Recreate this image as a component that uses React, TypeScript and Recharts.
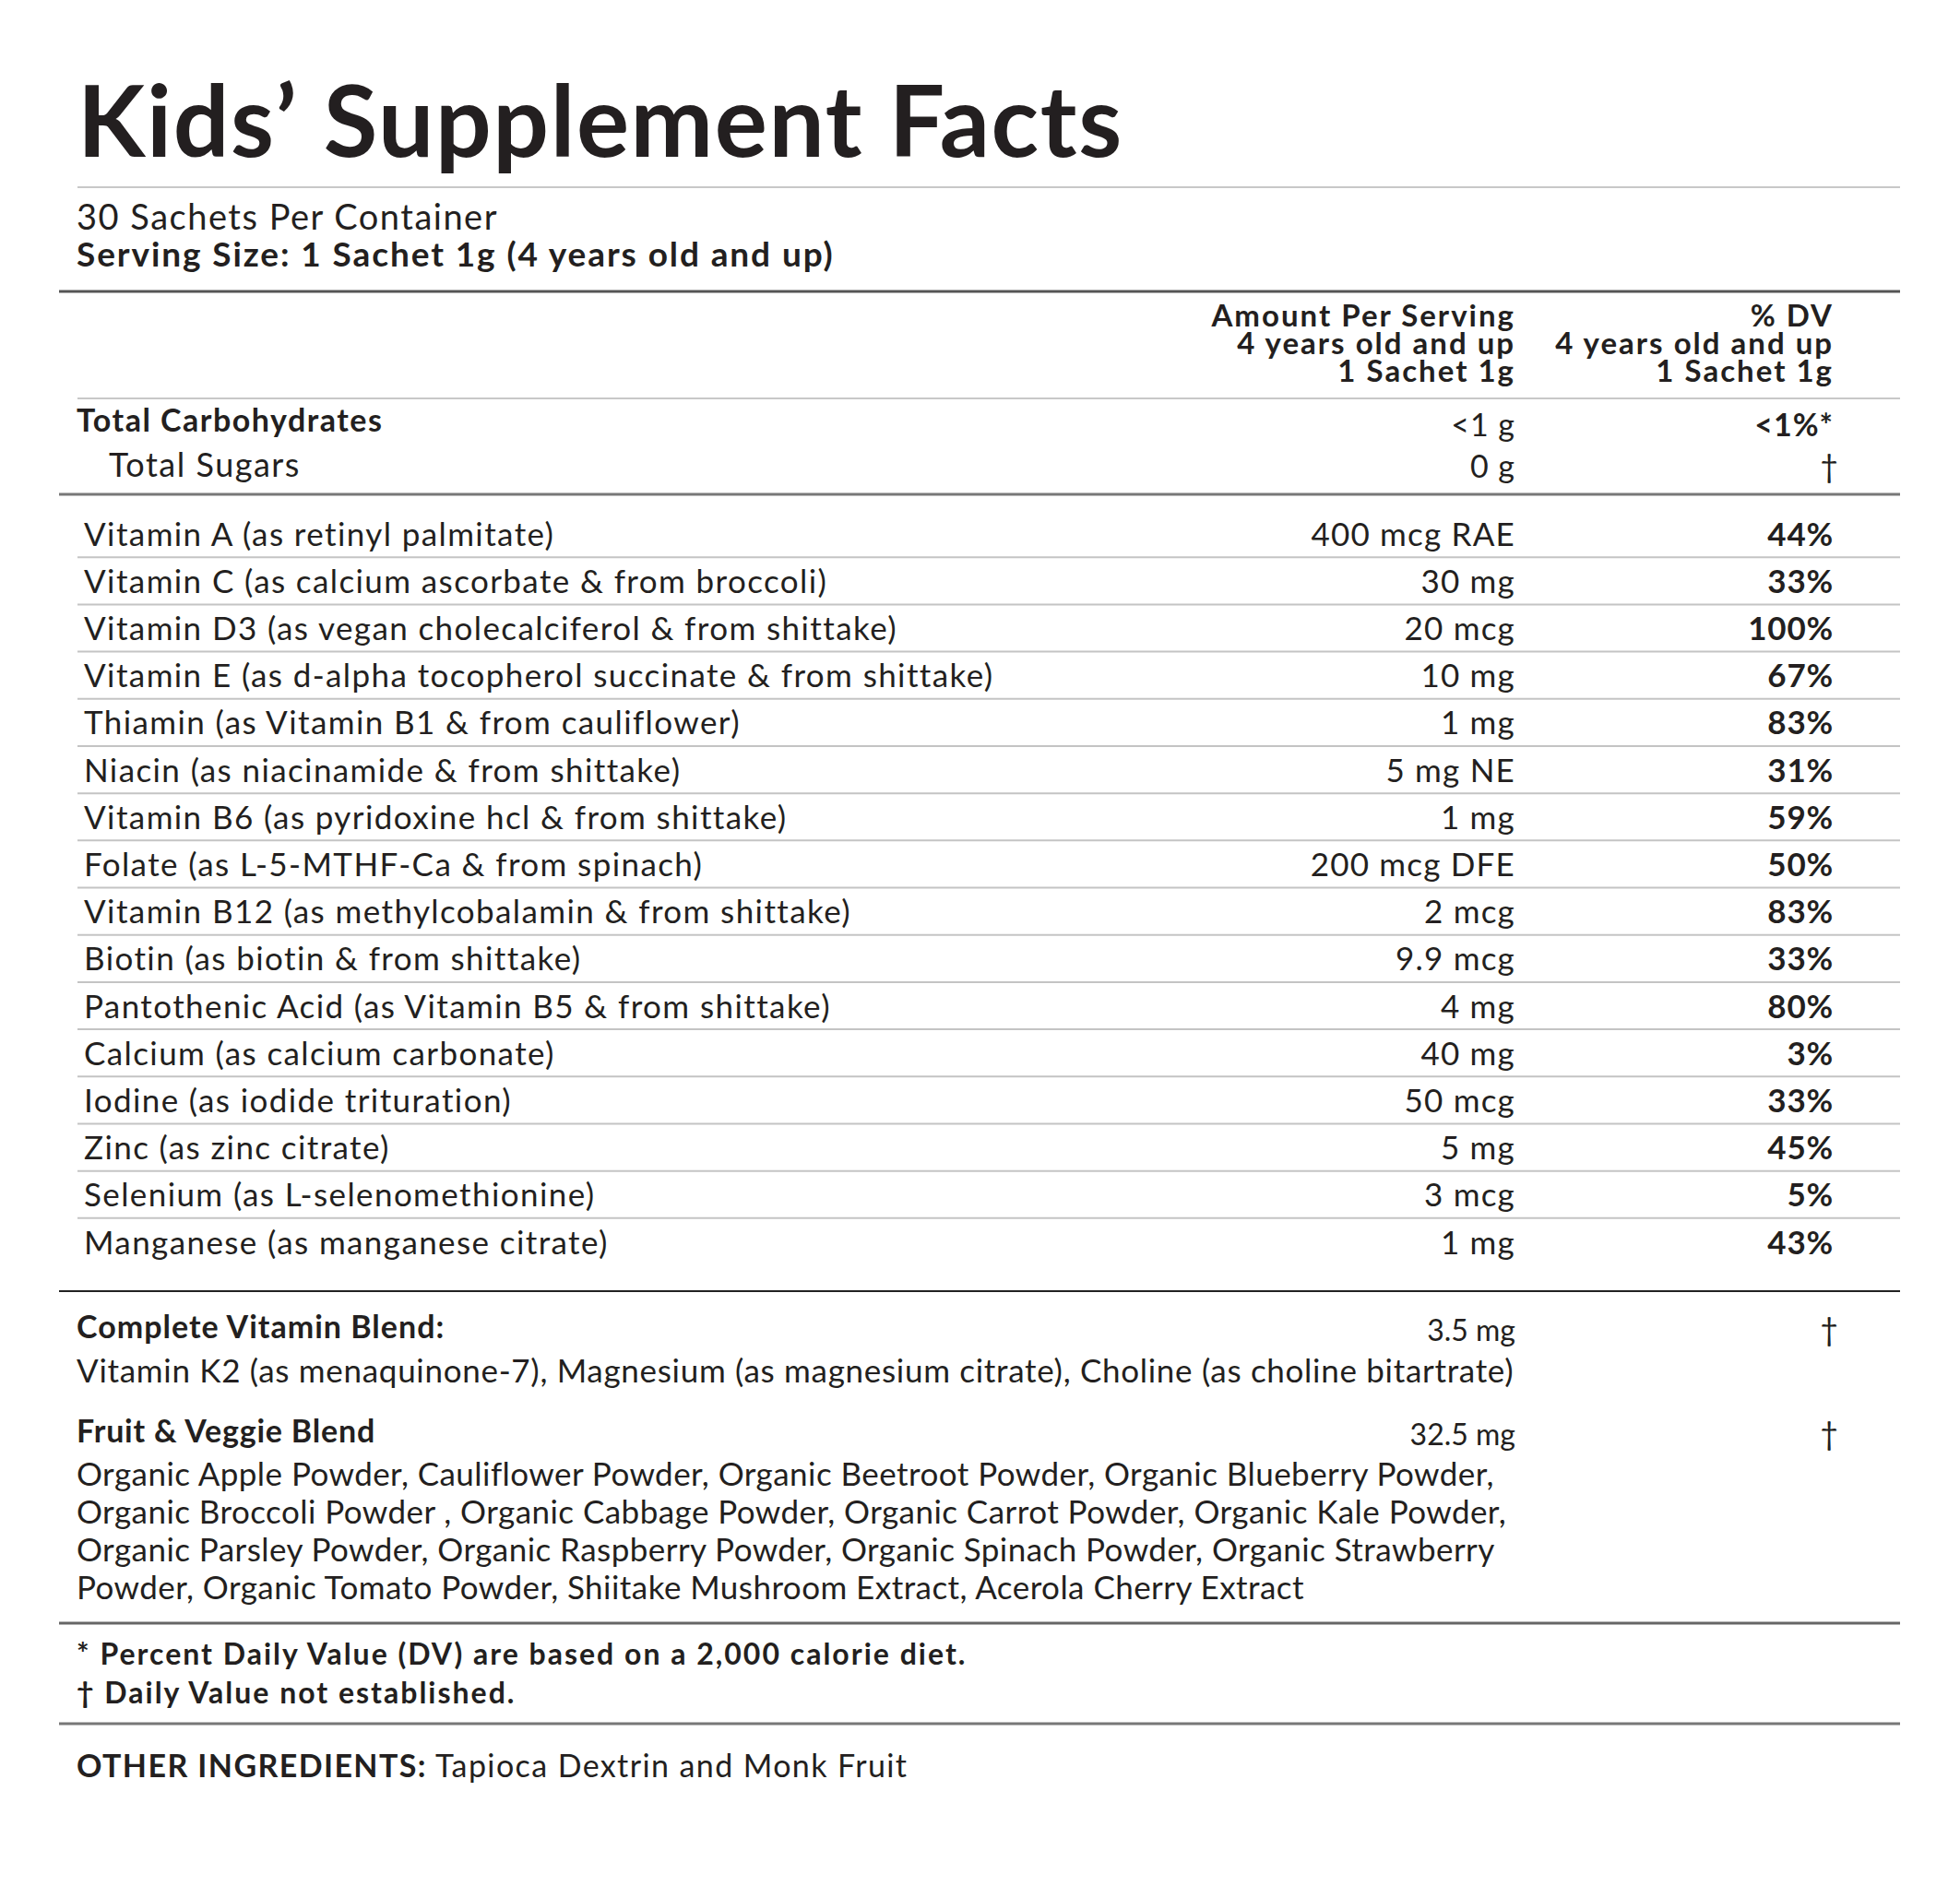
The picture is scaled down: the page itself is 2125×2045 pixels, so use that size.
import { BarChart, Bar, XAxis, YAxis, Customized } from 'recharts'

const nutrients = [
  'Vitamin A (as retinyl palmitate)',
  'Vitamin C (as calcium ascorbate & from broccoli)',
  'Vitamin D3 (as vegan cholecalciferol & from shittake)',
  'Vitamin E (as d-alpha tocopherol succinate & from shittake)',
  'Thiamin (as Vitamin B1 & from cauliflower)',
  'Niacin (as niacinamide & from shittake)',
  'Vitamin B6 (as pyridoxine hcl & from shittake)',
  'Folate (as L-5-MTHF-Ca & from spinach)',
  'Vitamin B12 (as methylcobalamin & from shittake)',
  'Biotin (as biotin & from shittake)',
  'Pantothenic Acid (as Vitamin B5 & from shittake)',
  'Calcium (as calcium carbonate)',
  'Iodine (as iodide trituration)',
  'Zinc (as zinc citrate)',
  'Selenium (as L-selenomethionine)',
  'Manganese (as manganese citrate)',
]
const amounts = [
  '400 mcg RAE', '30 mg', '20 mcg', '10 mg', '1 mg', '5 mg NE', '1 mg', '200 mcg DFE',
  '2 mcg', '9.9 mcg', '4 mg', '40 mg', '50 mcg', '5 mg', '3 mcg', '1 mg',
]
const dailyValues = [44, 33, 100, 67, 83, 31, 59, 50, 83, 33, 80, 3, 33, 45, 5, 43]

const headerLines = ['Amount Per Serving', '4 years old and up', '1 Sachet 1g']
const dvHeaderLines = ['% DV', '4 years old and up', '1 Sachet 1g']
const vitaminBlend = ['Vitamin K2 (as menaquinone-7), Magnesium (as magnesium citrate), Choline (as choline bitartrate)']
const veggieBlend = [
  'Organic Apple Powder, Cauliflower Powder, Organic Beetroot Powder, Organic Blueberry Powder,',
  'Organic Broccoli Powder , Organic Cabbage Powder, Organic Carrot Powder, Organic Kale Powder,',
  'Organic Parsley Powder, Organic Raspberry Powder, Organic Spinach Powder, Organic Strawberry',
  'Powder, Organic Tomato Powder, Shiitake Mushroom Extract, Acerola Cherry Extract',
]
const footnotes = [
  '* Percent Daily Value (DV) are based on a 2,000 calorie diet.',
  '\u2020 Daily Value not established.',
]

const rows = nutrients.map((name, i) => ({ name, amount: amounts[i], dv: dailyValues[i] }))

const W = 2125
const H = 2045
const PLOT_TOP = 553
const PLOT_BOTTOM = 1372
const ROW_H = (PLOT_BOTTOM - PLOT_TOP) / rows.length
const INK = '#231f20'
const FONT = 'Lato, sans-serif'
const NAME_X = 91
const AMT_X = 1643
const DV_X = 1988
const LEFT = 84
const LEFT_WIDE = 64
const RIGHT = 2060

function RowTick(props: any) {
  const { y, payload, index } = props
  const row = rows.find((r) => r.name === payload.value) ?? rows[index]
  if (!row) return null
  const base = y + ROW_H / 2 - 12.5
  return (
    <g fontFamily={FONT} fill={INK} fontSize={35}>
      <text x={NAME_X} y={base} letterSpacing={1.4}>{row.name}</text>
      <text x={AMT_X} y={base} textAnchor="end" letterSpacing={1.2}>{row.amount}</text>
      <text x={DV_X} y={base} textAnchor="end" fontWeight={700} letterSpacing={0.8}>{row.dv}%</text>
      {row !== rows[rows.length - 1] && (
        <line x1={LEFT} x2={RIGHT} y1={y + ROW_H / 2} y2={y + ROW_H / 2} stroke="#c4c4c4" strokeWidth={2} />
      )}
    </g>
  )
}

function LabelText() {
  return (
    <g fontFamily={FONT} fill={INK}>
      <text x={84} y={170} fontSize={107} fontWeight={700} letterSpacing={1.6}>Kids’ Supplement Facts</text>
      <line x1={LEFT} x2={RIGHT} y1={203} y2={203} stroke="#c8c8c8" strokeWidth={2} />
      <text x={83} y={249} fontSize={38} letterSpacing={1.5}>30 Sachets Per Container</text>
      <text x={83} y={289} fontSize={37} fontWeight={700} letterSpacing={1.9}>Serving Size: 1 Sachet 1g (4 years old and up)</text>
      <line x1={LEFT_WIDE} x2={RIGHT} y1={316} y2={316} stroke="#555" strokeWidth={3} />

      {headerLines.map((t, i) => (
        <text key={'a' + i} x={AMT_X} y={354 + i * 30} fontSize={33} fontWeight={700} letterSpacing={2} textAnchor="end">{t}</text>
      ))}
      {dvHeaderLines.map((t, i) => (
        <text key={'d' + i} x={DV_X} y={354 + i * 30} fontSize={33} fontWeight={700} letterSpacing={2} textAnchor="end">{t}</text>
      ))}
      <line x1={LEFT} x2={RIGHT} y1={432} y2={432} stroke="#c8c8c8" strokeWidth={2} />

      <text x={83} y={468} fontSize={34} fontWeight={700} letterSpacing={1.5}>Total Carbohydrates</text>
      <text x={AMT_X} y={473} fontSize={34} letterSpacing={1} textAnchor="end">&lt;1 g</text>
      <text x={DV_X} y={473} fontSize={34} fontWeight={700} letterSpacing={1} textAnchor="end">&lt;1%*</text>
      <text x={118} y={517} fontSize={36} letterSpacing={1.5}>Total Sugars</text>
      <text x={AMT_X} y={518} fontSize={34} letterSpacing={1} textAnchor="end">0 g</text>
      <text x={1983} y={518} fontSize={34} textAnchor="middle">{'\u2020'}</text>
      <line x1={LEFT_WIDE} x2={RIGHT} y1={536} y2={536} stroke="#777" strokeWidth={3} />

      <line x1={LEFT_WIDE} x2={RIGHT} y1={1400} y2={1400} stroke="#222" strokeWidth={2} />
      <text x={83} y={1451} fontSize={34} fontWeight={700} letterSpacing={1}>Complete Vitamin Blend:</text>
      <text x={AMT_X} y={1454} fontSize={32} textAnchor="end">3.5 mg</text>
      <text x={1983} y={1454} fontSize={34} textAnchor="middle">{'\u2020'}</text>
      {vitaminBlend.map((t, i) => (
        <text key={'v' + i} x={83} y={1499 + i * 41} fontSize={35} letterSpacing={0.7}>{t}</text>
      ))}
      <text x={83} y={1564} fontSize={34} fontWeight={700} letterSpacing={0.8}>Fruit &amp; Veggie Blend</text>
      <text x={AMT_X} y={1567} fontSize={32} textAnchor="end">32.5 mg</text>
      <text x={1983} y={1567} fontSize={34} textAnchor="middle">{'\u2020'}</text>
      {veggieBlend.map((t, i) => (
        <text key={'f' + i} x={83} y={1611 + i * 41} fontSize={35} letterSpacing={0.45}>{t}</text>
      ))}
      <line x1={LEFT_WIDE} x2={RIGHT} y1={1760} y2={1760} stroke="#666" strokeWidth={3} />

      {footnotes.map((t, i) => (
        <text key={'n' + i} x={83} y={1805 + i * 42} fontSize={32} fontWeight={700} letterSpacing={2}>{t}</text>
      ))}
      <line x1={LEFT_WIDE} x2={RIGHT} y1={1869} y2={1869} stroke="#777" strokeWidth={3} />

      <text x={83} y={1927} fontSize={34} letterSpacing={1.4}>
        <tspan fontWeight={700}>OTHER INGREDIENTS:</tspan> Tapioca Dextrin and Monk Fruit
      </text>
    </g>
  )
}

export default function App() {
  return (
    <div style={{ position: 'absolute', left: 0, top: 0, width: W, height: H, background: '#fff' }}>
      <BarChart
        width={W}
        height={H}
        data={rows}
        layout="vertical"
        margin={{ top: PLOT_TOP, bottom: H - PLOT_BOTTOM, left: 0, right: 0 }}
      >
        <XAxis type="number" dataKey="dv" domain={[0, 100]} hide />
        <YAxis
          type="category"
          dataKey="name"
          width={1}
          interval={0}
          axisLine={false}
          tickLine={false}
          tick={(p: any) => <RowTick {...p} />}
        />
        <Bar dataKey="dv" fill="#fff" fillOpacity={0} isAnimationActive={false} />
        <Customized component={LabelText} />
      </BarChart>
    </div>
  )
}
